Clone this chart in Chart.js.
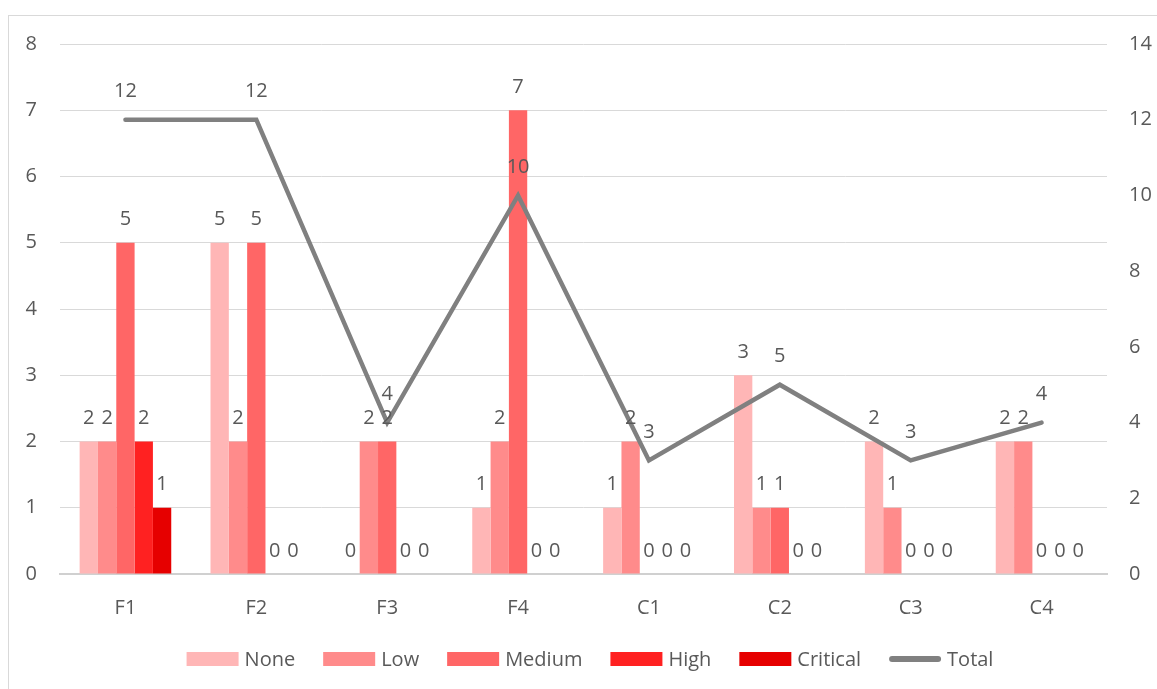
<!DOCTYPE html>
<html>
<head>
<meta charset="utf-8">
<script src="https://cdn.jsdelivr.net/npm/chart.js@4.4.1/dist/chart.umd.min.js"></script>
<style>
  html, body { margin: 0; padding: 0; background: #ffffff; }
  canvas { display: block; }
</style>
</head>
<body>
<canvas id="chart" width="1157" height="689"></canvas>
<script>
const categories = ['F1', 'F2', 'F3', 'F4', 'C1', 'C2', 'C3', 'C4'];
const noneVals = [2, 5, 0, 1, 1, 3, 2, 2];
const lowVals = [2, 2, 2, 2, 2, 1, 1, 2];
const mediumVals = [5, 5, 2, 7, 0, 1, 0, 0];
const highVals = [2, 0, 0, 0, 0, 0, 0, 0];
const criticalVals = [1, 0, 0, 0, 0, 0, 0, 0];
const totalVals = [12, 12, 4, 10, 3, 5, 3, 4];

const FONT = '"Open Sans", "Noto Sans", sans-serif';
const TEXT = '#595959';
const GRID = '#d9d9d9';

// white page and the light frame round the chart
const framePlugin = {
    id: 'frame',
    beforeDraw(chart) {
        const ctx = chart.ctx;
        ctx.save();
        ctx.fillStyle = '#ffffff';
        ctx.fillRect(0, 0, chart.width, chart.height);
        ctx.strokeStyle = GRID;
        ctx.lineWidth = 1;
        ctx.strokeRect(8.5, 15.5, 1200, 700);
        ctx.restore();
    }
};

// value labels above every bar and line point
const valueLabels = {
    id: 'valueLabels',
    afterDatasetsDraw(chart) {
        const ctx = chart.ctx;
        ctx.save();
        ctx.font = '20px ' + FONT;
        ctx.fillStyle = TEXT;
        ctx.textAlign = 'center';
        ctx.textBaseline = 'middle';
        chart.data.datasets.forEach((ds, i) => {
            const meta = chart.getDatasetMeta(i);
            const lift = ds.type === 'line' ? 28 : 23;
            meta.data.forEach((el, j) => {
                ctx.fillText(String(ds.data[j]), el.x, el.y - lift);
            });
        });
        ctx.restore();
    }
};

// legend drawn by hand so bars get wide boxes and Total a thick line
const customLegend = {
    id: 'customLegend',
    afterDraw(chart) {
        const ctx = chart.ctx;
        const items = chart.data.datasets.slice(1).concat(chart.data.datasets[0]);
        const boxW = 52, boxH = 14, textGap = 6, itemGap = 28, cy = 659;
        ctx.save();
        ctx.font = '20px ' + FONT;
        ctx.textBaseline = 'middle';
        ctx.textAlign = 'left';
        let total = 0;
        items.forEach((ds, i) => {
            total += boxW + textGap + ctx.measureText(ds.label).width;
            if (i < items.length - 1) total += itemGap;
        });
        let x = 590 - total / 2;
        items.forEach(ds => {
            if (ds.type === 'line') {
                ctx.strokeStyle = ds.borderColor;
                ctx.lineWidth = 6;
                ctx.lineCap = 'round';
                ctx.beginPath();
                ctx.moveTo(x + 3, cy);
                ctx.lineTo(x + boxW - 3, cy);
                ctx.stroke();
            } else {
                ctx.fillStyle = ds.backgroundColor;
                ctx.fillRect(x, cy - boxH / 2, boxW, boxH);
            }
            x += boxW + textGap;
            ctx.fillStyle = TEXT;
            ctx.fillText(ds.label, x, cy + 1);
            x += ctx.measureText(ds.label).width + itemGap;
        });
        ctx.restore();
    }
};

function barSet(label, data, color) {
    return {
        type: 'bar',
        label: label,
        data: data,
        backgroundColor: color,
        borderWidth: 0,
        yAxisID: 'y',
        order: 1,
        categoryPercentage: 0.70,
        barPercentage: 1.0
    };
}

new Chart(document.getElementById('chart').getContext('2d'), {
    type: 'bar',
    data: {
        labels: categories,
        datasets: [
            {
                type: 'line',
                label: 'Total',
                data: totalVals,
                borderColor: '#808080',
                borderWidth: 4.5,
                borderJoinStyle: 'miter',
                borderCapStyle: 'round',
                pointRadius: 0,
                pointHoverRadius: 0,
                tension: 0,
                fill: false,
                yAxisID: 'y1',
                order: 0
            },
            barSet('None', noneVals, '#ffb6b6'),
            barSet('Low', lowVals, '#ff8b8b'),
            barSet('Medium', mediumVals, '#ff6666'),
            barSet('High', highVals, '#ff2121'),
            barSet('Critical', criticalVals, '#e60000')
        ]
    },
    options: {
        responsive: false,
        animation: false,
        layout: { padding: { top: 44, bottom: 55, left: 0, right: 0 } },
        plugins: {
            legend: { display: false },
            tooltip: { enabled: false },
            title: { display: false }
        },
        scales: {
            x: {
                grid: { display: false },
                border: { display: true, color: '#d0d0d0', width: 2 },
                ticks: {
                    color: TEXT,
                    font: { family: FONT, size: 20 },
                    padding: 14,
                    maxRotation: 0
                },
                afterFit(scale) { scale.height = 60; }
            },
            y: {
                position: 'left',
                min: 0,
                max: 8,
                ticks: {
                    stepSize: 1,
                    color: TEXT,
                    font: { family: FONT, size: 20 },
                    padding: 23
                },
                grid: { color: GRID, lineWidth: 1, drawTicks: false },
                border: { display: false },
                afterFit(scale) { scale.width = 60; }
            },
            y1: {
                position: 'right',
                min: 0,
                max: 14,
                ticks: {
                    stepSize: 2,
                    color: TEXT,
                    font: { family: FONT, size: 20 },
                    padding: 22
                },
                grid: { display: false, drawTicks: false },
                border: { display: false },
                afterFit(scale) { scale.width = 50; }
            }
        }
    },
    plugins: [framePlugin, valueLabels, customLegend]
});
</script>
</body>
</html>
